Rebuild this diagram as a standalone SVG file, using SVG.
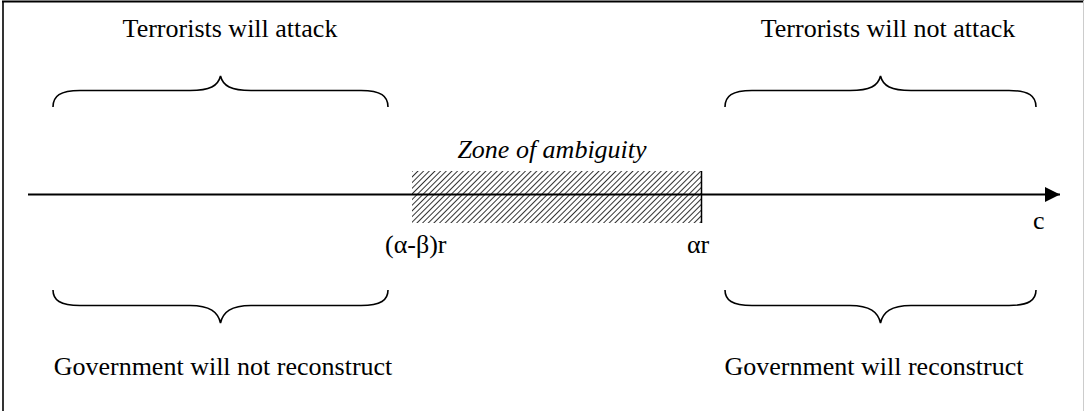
<svg xmlns="http://www.w3.org/2000/svg" width="1085" height="411" viewBox="0 0 1085 411">
<style>
.t{font-family:"Liberation Serif","Times New Roman",serif;font-size:26px;fill:#000}
.i{font-style:italic}
.br{fill:none;stroke:#000;stroke-width:1.6}
</style>
<defs>
<pattern id="hatch" width="4" height="4" patternUnits="userSpaceOnUse" patternTransform="rotate(45)">
<rect width="4" height="4" fill="#fff"/>
<line x1="0" y1="0" x2="0" y2="4" stroke="#333" stroke-width="2"/>
</pattern>
<marker id="arr" markerWidth="16" markerHeight="16" refX="15" refY="7.5" orient="auto" markerUnits="userSpaceOnUse">
<path d="M0,0 L15,7.5 L0,15 Z" fill="#000"/>
</marker>
</defs>
<rect width="1085" height="411" fill="#fff"/>
<g id="frame">
<line x1="2" y1="1.5" x2="1084" y2="1.5" stroke="#000" stroke-width="2"/>
<line x1="3" y1="1" x2="3" y2="411" stroke="#000" stroke-width="1.6"/>
<line x1="1083.5" y1="1" x2="1083.5" y2="411" stroke="#ccc" stroke-width="1"/>
</g>
<g id="zone">
<rect x="412" y="171" width="289" height="52" fill="url(#hatch)"/>
<line x1="701.5" y1="171" x2="701.5" y2="223" stroke="#000" stroke-width="1.5"/>
</g>
<g id="connectors">
<line x1="28" y1="194.5" x2="1060" y2="194.5" stroke="#000" stroke-width="2" marker-end="url(#arr)"/>
</g>
<g id="brace-top-left">
<path class="br" d="M53,107 C53,96 60,90.5 80,90.5 L190,90.5 C210,90.5 218,86 220.5,76 C223,86 231,90.5 251,90.5 L361,90.5 C381,90.5 388,96 388,107"/>
</g>
<g id="brace-top-right">
<path class="br" d="M725,107 C725,96 732,90.5 752,90.5 L850,90.5 C870,90.5 878,86 880.5,76 C883,86 891,90.5 911,90.5 L1009,90.5 C1029,90.5 1036,96 1036,107"/>
</g>
<g id="brace-bottom-left">
<path class="br" d="M53,290 C53,300 60,305.5 80,305.5 L190,305.5 C210,305.5 218,312 220.5,323 C223,312 231,305.5 251,305.5 L361,305.5 C381,305.5 388,300 388,290"/>
</g>
<g id="brace-bottom-right">
<path class="br" d="M725,290 C725,300 732,305.5 752,305.5 L850,305.5 C870,305.5 878,312 880.5,323 C883,312 891,305.5 911,305.5 L1009,305.5 C1029,305.5 1036,300 1036,290"/>
</g>
<g id="labels">
<text class="t" x="230" y="37" text-anchor="middle">Terrorists will attack</text>
<text class="t" x="888" y="37" text-anchor="middle">Terrorists will not attack</text>
<text class="t i" x="552" y="158" text-anchor="middle">Zone of ambiguity</text>
<text class="t" x="385" y="253">(α-β)r</text>
<text class="t" x="687" y="253">αr</text>
<text class="t" x="1033" y="229">c</text>
<text class="t" x="223" y="375" text-anchor="middle">Government will not reconstruct</text>
<text class="t" x="874" y="375" text-anchor="middle">Government will reconstruct</text>
</g>
</svg>
